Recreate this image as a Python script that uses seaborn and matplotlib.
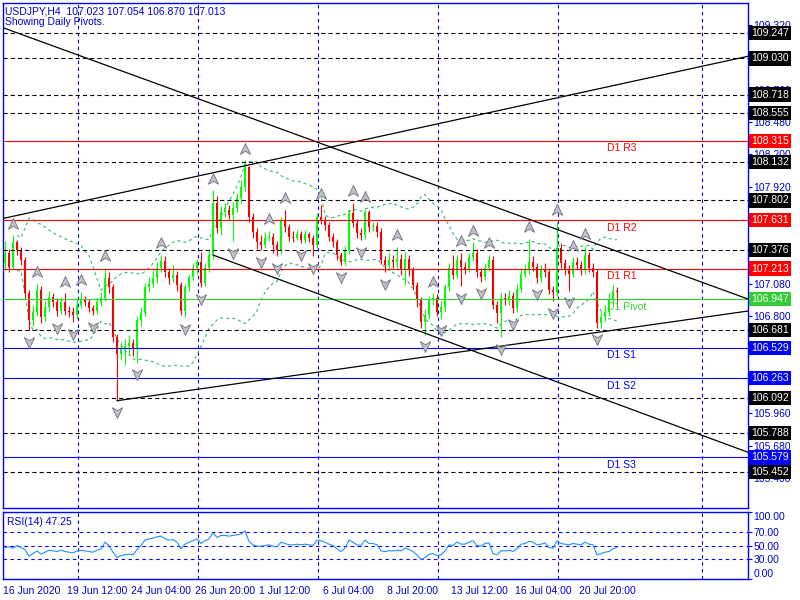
import numpy as np
import pandas as pd
import matplotlib
matplotlib.use('Agg')
import matplotlib.pyplot as plt
import matplotlib.transforms as mtransforms
from matplotlib.path import Path
import seaborn as sns

sns.set_style("white")
plt.rcParams['font.family'] = ['Liberation Sans', 'DejaVu Sans']
plt.rcParams['lines.scale_dashes'] = False

# ---- 数据 (USDJPY H4, 从图上读取) ----
first_open = 107.26
closes = [
    107.35, 107.23, 107.44, 107.37, 107.29, 107.00, 106.77, 106.84, 107.03, 106.79,
    106.88, 106.97, 106.92, 106.85, 106.92, 106.85, 106.84, 106.81, 106.90, 106.94,
    106.92, 106.87, 106.85, 106.92, 106.96, 107.13, 107.05, 106.62, 106.47, 106.53,
    106.54, 106.57, 106.53, 106.77, 106.83, 107.05, 107.08, 107.13, 107.22, 107.28,
    107.18, 107.13, 107.16, 107.07, 106.85, 107.05, 107.14, 107.22, 107.27, 107.09,
    107.22, 107.33, 107.78, 107.56, 107.70, 107.72, 107.68, 107.74, 107.82, 107.92,
    108.09, 107.66, 107.53, 107.44, 107.42, 107.48, 107.49, 107.42, 107.37, 107.63,
    107.57, 107.49, 107.48, 107.51, 107.46, 107.51, 107.48, 107.42, 107.66, 107.63,
    107.59, 107.49, 107.44, 107.33, 107.27, 107.37, 107.69, 107.61, 107.52, 107.50,
    107.70, 107.57, 107.58, 107.53, 107.29, 107.24, 107.29, 107.27, 107.30, 107.20,
    107.30, 107.20, 107.07, 106.94, 106.75, 106.81, 106.94, 106.96, 106.84, 106.88,
    107.05, 107.22, 107.16, 107.29, 107.23, 107.21, 107.31, 107.35, 107.18, 107.14,
    107.22, 107.29, 106.90, 106.83, 106.96, 106.94, 106.98, 106.87, 107.04, 107.17,
    107.20, 107.27, 107.23, 107.13, 107.20, 107.18, 107.03, 107.01, 107.39, 107.26,
    107.20, 107.17, 107.27, 107.24, 107.20, 107.33, 107.22, 107.18, 106.74, 106.79,
    106.84, 106.94, 107.023, 107.013]
highs = [
    107.45, 107.38, 107.50, 107.46, 107.40, 107.31, 107.03, 106.90, 107.08, 107.06,
    106.93, 107.02, 107.00, 106.96, 106.97, 107.00, 106.89, 106.88, 106.95, 107.01,
    106.98, 106.95, 106.90, 106.96, 107.01, 107.22, 107.18, 107.08, 106.65, 106.58,
    106.60, 106.64, 106.60, 106.80, 106.88, 107.09, 107.14, 107.20, 107.27, 107.33,
    107.32, 107.22, 107.24, 107.19, 107.10, 107.08, 107.17, 107.26, 107.30, 107.36,
    107.26, 107.38, 107.89, 107.84, 107.75, 107.78, 107.76, 107.79, 107.87, 107.98,
    108.15, 108.10, 107.69, 107.56, 107.50, 107.53, 107.54, 107.52, 107.45, 107.66,
    107.72, 107.60, 107.54, 107.55, 107.54, 107.55, 107.53, 107.50, 107.69, 107.76,
    107.67, 107.62, 107.52, 107.47, 107.36, 107.41, 107.72, 107.78, 107.64, 107.56,
    107.73, 107.72, 107.62, 107.62, 107.56, 107.32, 107.35, 107.33, 107.40, 107.34,
    107.36, 107.33, 107.23, 107.10, 106.97, 106.86, 106.98, 107.00, 106.99, 106.93,
    107.08, 107.26, 107.33, 107.33, 107.35, 107.27, 107.35, 107.44, 107.38, 107.22,
    107.26, 107.33, 107.32, 106.93, 107.00, 107.00, 107.03, 107.01, 107.08, 107.21,
    107.25, 107.47, 107.32, 107.26, 107.24, 107.26, 107.22, 107.06, 107.62, 107.43,
    107.30, 107.24, 107.31, 107.31, 107.28, 107.41, 107.36, 107.26, 107.21, 106.84,
    106.90, 107.00, 107.07, 107.054]
lows = [
    107.20, 107.18, 107.21, 107.33, 107.24, 106.96, 106.68, 106.72, 106.80, 106.74,
    106.76, 106.85, 106.88, 106.80, 106.82, 106.81, 106.79, 106.75, 106.78, 106.87,
    106.89, 106.84, 106.81, 106.82, 106.89, 106.93, 107.00, 106.58, 106.07, 106.42,
    106.38, 106.47, 106.46, 106.40, 106.72, 106.80, 107.01, 107.05, 107.09, 107.18,
    107.14, 107.08, 107.10, 107.02, 106.81, 106.79, 107.02, 107.11, 107.17, 107.05,
    107.06, 107.18, 107.30, 107.52, 107.50, 107.66, 107.64, 107.45, 107.70, 107.78,
    107.88, 107.62, 107.48, 107.38, 107.37, 107.39, 107.45, 107.35, 107.32, 107.34,
    107.53, 107.45, 107.44, 107.46, 107.43, 107.43, 107.44, 107.32, 107.39, 107.60,
    107.55, 107.45, 107.40, 107.29, 107.24, 107.24, 107.34, 107.57, 107.48, 107.46,
    107.47, 107.53, 107.54, 107.49, 107.25, 107.18, 107.21, 107.22, 107.20, 107.16,
    107.07, 107.15, 107.03, 106.88, 106.70, 106.64, 106.78, 106.90, 106.80, 106.78,
    106.85, 107.02, 107.12, 107.13, 107.06, 107.17, 107.18, 107.28, 107.14, 107.10,
    107.11, 107.19, 106.86, 106.74, 106.62, 106.90, 106.90, 106.83, 106.84, 107.01,
    107.14, 107.17, 107.19, 107.09, 107.10, 107.14, 106.99, 106.93, 106.98, 107.22,
    107.16, 107.02, 107.14, 107.20, 107.16, 107.17, 107.18, 107.14, 106.70, 106.70,
    106.76, 106.80, 106.90, 106.870]
rsi_values = [
    47, 48, 46, 50, 47, 44, 34, 38, 42, 37,
    40, 43, 42, 41, 43, 41, 40, 39, 42, 43,
    42, 41, 40, 43, 45, 55, 50, 40, 32, 35,
    36, 37, 36, 44, 50, 58, 60, 61, 63, 64,
    60, 58, 59, 55, 45, 52, 55, 57, 60, 53,
    57, 60, 69, 62, 65, 65, 64, 65, 66, 67,
    72, 56, 51, 49, 49, 50, 51, 49, 48, 55,
    53, 51, 51, 52, 51, 52, 51, 50, 58, 57,
    55, 52, 50, 45, 41, 46, 58, 55, 51, 50,
    58, 53, 53, 51, 42, 41, 42, 42, 43, 42,
    46, 44, 41, 36, 29, 32, 37, 38, 35, 36,
    42, 51, 50, 55, 52, 52, 55, 57, 50, 49,
    53, 54, 38, 36, 42, 42, 43, 41, 45, 52,
    53, 56, 55, 51, 52, 54, 47, 46, 57, 53,
    52, 51, 53, 52, 51, 55, 52, 51, 36, 38,
    40, 41, 45, 47.25]

# 日线枢轴点和水平位
black_levels = [109.247, 109.030, 108.718, 108.555, 108.132, 107.802, 107.376,
                106.681, 106.092, 105.788, 105.452]
resistance_names = ['D1 R3', 'D1 R2', 'D1 R1']
resistance_levels = [108.315, 107.631, 107.213]
pivot_level = 106.947
support_names = ['D1 S1', 'D1 S2', 'D1 S3']
support_levels = [106.529, 106.263, 105.579]

# 趋势线 (bar1, price1, bar2, price2, 是否向左延伸)
trend_lines = [
    (0, 109.29, 150, 107.40, True),
    (0, 107.65, 150, 108.78, True),
    (28, 106.07, 150, 106.67, False),
    (52, 107.33, 150, 106.08, False),
]

price_ticks = [109.320, 109.040, 108.760, 108.480, 108.200, 107.920, 107.640,
               107.360, 107.080, 106.800, 106.520, 106.240, 105.960, 105.680, 105.400]
# 被右侧价格标签完全遮住的刻度
hidden_ticks = [109.040, 107.640, 107.360, 106.520, 106.240]
rsi_ticks = [100, 70, 50, 30, 0]
date_labels = ['16 Jun 2020', '19 Jun 12:00', '24 Jun 04:00', '26 Jun 20:00',
               '1 Jul 12:00', '6 Jul 04:00', '8 Jul 20:00', '13 Jul 12:00',
               '16 Jul 04:00', '20 Jul 20:00']
date_tick_bars = [0, 16, 32, 48, 64, 80, 96, 112, 128, 144]
vgrid_bars = [18.3, 48.3, 78.3, 108.3, 138.3, 174.3]

title_line = 'USDJPY,H4  107.023 107.054 106.870 107.013'
subtitle_line = 'Showing Daily Pivots.'
rsi_label = 'RSI(14) 47.25'

# ---- 整理数据 ----
df = pd.DataFrame({'close': closes, 'high': highs, 'low': lows, 'rsi': rsi_values})
df['open'] = df['close'].shift(1).fillna(first_open)
df['bar'] = np.arange(len(df))
mid = df['close'].rolling(20, min_periods=4).mean()
sd = df['close'].rolling(20, min_periods=4).std(ddof=0)
df['upper'] = mid + 2 * sd
df['lower'] = mid - 2 * sd

n = len(df)
h = df['high'].values
l = df['low'].values
up_frac = [i for i in range(2, n - 2)
           if h[i] > max(h[i - 2], h[i - 1]) and h[i] >= max(h[i + 1], h[i + 2])]
dn_frac = [i for i in range(2, n - 2)
           if l[i] < min(l[i - 2], l[i - 1]) and l[i] <= min(l[i + 1], l[i + 2])]

BLUE = '#0000ff'
TXT = '#0000d0'
GREEN = '#32cd32'
BAND = '#3cb371'
FS = 7.5
XMIN, XMAX = -0.5, 185.75

fig = plt.figure(figsize=(8, 6), dpi=100)
ax = fig.add_axes([3 / 800, 1 - 508 / 600, 745 / 800, 505 / 600])
rax = fig.add_axes([3 / 800, 1 - 579 / 600, 745 / 800, 67 / 600])

# 垂直网格
for a in (ax, rax):
    for b in vgrid_bars:
        a.axvline(b, color=BLUE, lw=0.8, dashes=(2.5, 2.5), zorder=1)

# 布林带
sns.lineplot(data=df, x='bar', y='upper', ax=ax, color=BAND, lw=0.8,
             dashes=False, linestyle=(0, (2.2, 2.2)), zorder=2)
sns.lineplot(data=df, x='bar', y='lower', ax=ax, color=BAND, lw=0.8,
             dashes=False, linestyle=(0, (2.2, 2.2)), zorder=2)

# K线
colors = np.where(df['close'] >= df['open'], '#00ff00', '#ff0000')
ax.vlines(df['bar'], df['low'], df['high'], colors=colors, lw=0.8, zorder=3)
body_lo = np.minimum(df['open'], df['close'])
body_h = np.maximum(np.abs(df['close'] - df['open']), 0.006)
ax.bar(df['bar'], body_h, bottom=body_lo, width=0.65, color=colors, zorder=4, linewidth=0)

# 水平位
for lv in black_levels:
    ax.axhline(lv, color='black', lw=0.8, dashes=(3, 2.2), zorder=5)
for name, lv in zip(resistance_names, resistance_levels):
    ax.axhline(lv, color='red', lw=0.8, zorder=5)
    ax.text(150.5, lv - 0.02, name, color='red', fontsize=FS, va='top', ha='left', zorder=6)
ax.axhline(pivot_level, color=GREEN, lw=0.8, zorder=5)
ax.text(150.5, pivot_level - 0.02, 'D1 Pivot', color=GREEN, fontsize=FS, va='top', ha='left', zorder=6)
for name, lv in zip(support_names, support_levels):
    ax.axhline(lv, color=BLUE, lw=0.8, zorder=5)
    ax.text(150.5, lv - 0.02, name, color=BLUE, fontsize=FS, va='top', ha='left', zorder=6)

# 趋势线
for b1, p1, b2, p2, left in trend_lines:
    slope = (p2 - p1) / (b2 - b1)
    xs = np.array([XMIN if left else b1, XMAX])
    ax.plot(xs, p1 + slope * (xs - b1), color='black', lw=0.9, zorder=5)

# 分形箭头
up_marker = Path([(0, 1), (0.85, -0.8), (0, -0.3), (-0.85, -0.8), (0, 1)],
                 [Path.MOVETO, Path.LINETO, Path.LINETO, Path.LINETO, Path.CLOSEPOLY])
dn_marker = Path([(0, -1), (0.85, 0.8), (0, 0.3), (-0.85, 0.8), (0, -1)],
                 [Path.MOVETO, Path.LINETO, Path.LINETO, Path.LINETO, Path.CLOSEPOLY])
ax.scatter(df['bar'].values[up_frac], h[up_frac] + 0.1, marker=up_marker, s=75,
           facecolor='#c0c0c8', edgecolor='#707080', linewidth=0.6, zorder=7)
ax.scatter(df['bar'].values[dn_frac], l[dn_frac] - 0.1, marker=dn_marker, s=75,
           facecolor='#c0c0c8', edgecolor='#707080', linewidth=0.6, zorder=7)

ax.set_xlim(XMIN, XMAX)
ax.set_ylim(105.142, 109.510)
ax.set_xticks([])
ax.set_xlabel('')
ax.set_ylabel('')
ax.yaxis.tick_right()
ax.set_yticks(price_ticks)
ax.set_yticklabels(['' if p in hidden_ticks else f'{p:.3f}' for p in price_ticks])
ax.tick_params(axis='y', colors=BLUE, labelcolor=TXT, labelsize=FS, length=3,
               width=0.8, direction='out', pad=1)

# 右侧价格标签
trans = mtransforms.blended_transform_factory(ax.transAxes, ax.transData)
box_levels = ([(lv, 'black') for lv in black_levels] +
              [(lv, 'red') for lv in resistance_levels] +
              [(pivot_level, GREEN)] +
              [(lv, BLUE) for lv in support_levels])
for lv, c in box_levels:
    ax.text(1.004, lv, f'{lv:.3f}', transform=trans, color='white', fontsize=FS,
            ha='left', va='center', clip_on=False, zorder=10,
            bbox=dict(boxstyle='square,pad=0.2', fc=c, ec='none'))

ax.text(0.003, 0.994, title_line, transform=ax.transAxes, color=TXT, fontsize=FS,
        ha='left', va='top')
ax.text(0.003, 0.972, subtitle_line, transform=ax.transAxes, color=TXT, fontsize=FS,
        ha='left', va='top')

# RSI
for lv in (70, 50, 30):
    rax.axhline(lv, color=BLUE, lw=0.8, dashes=(2.5, 2.5), zorder=1)
sns.lineplot(data=df, x='bar', y='rsi', ax=rax, color='#1e90ff', lw=0.8, zorder=3)
rax.set_xlim(XMIN, XMAX)
rax.set_ylim(0, 100)
rax.set_xlabel('')
rax.set_ylabel('')
rax.yaxis.tick_right()
rax.set_yticks(rsi_ticks)
rax.set_yticklabels([f'{v:.2f}' for v in rsi_ticks])
for lab, v in zip(rax.get_yticklabels(), rsi_ticks):
    if v == 100:
        lab.set_va('top')
    elif v == 0:
        lab.set_va('bottom')
rax.tick_params(axis='y', colors=BLUE, labelcolor=TXT, labelsize=FS, length=3,
                width=0.8, direction='out', pad=1)
rax.set_xticks([b - 0.5 for b in date_tick_bars])
rax.set_xticklabels(date_labels, ha='left')
rax.tick_params(axis='x', colors=BLUE, labelcolor=TXT, labelsize=FS, length=4,
                width=0.8, direction='out', pad=1)
rax.text(0.006, 0.93, rsi_label, transform=rax.transAxes, color=TXT, fontsize=FS,
         ha='left', va='top')

for a in (ax, rax):
    for s in a.spines.values():
        s.set_color(BLUE)
        s.set_linewidth(1)

fig.savefig('out.png', dpi=100)
